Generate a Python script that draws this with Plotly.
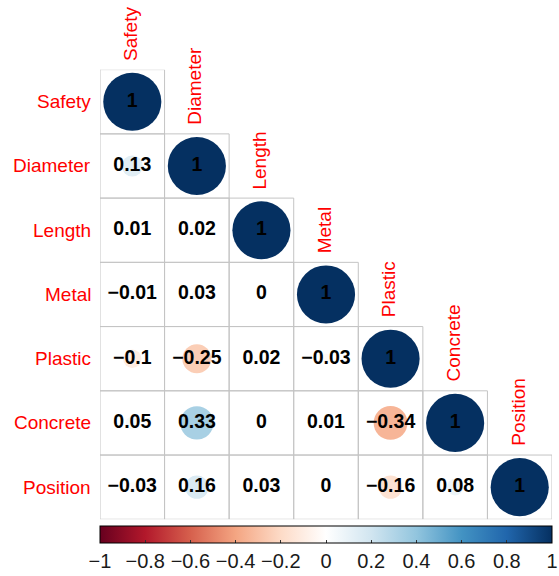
import plotly.graph_objects as go

# Variables and lower-triangle correlation coefficients (row i, columns 0..i-1)
variables = ["Safety", "Diameter", "Length", "Metal", "Plastic", "Concrete", "Position"]
corr_lower = [
    [],
    [0.13],
    [0.01, 0.02],
    [-0.01, 0.03, 0],
    [-0.1, -0.25, 0.02, -0.03],
    [0.05, 0.33, 0, 0.01, -0.34],
    [-0.03, 0.16, 0.03, 0, -0.16, 0.08],
]
colorbar_ticks = [-1, -0.8, -0.6, -0.4, -0.2, 0, 0.2, 0.4, 0.6, 0.8, 1]

# Diverging red-blue palette
rdbu = ["#67001F", "#B2182B", "#D6604D", "#F4A582", "#FDDBC7", "#FFFFFF",
        "#D1E5F0", "#92C5DE", "#4393C3", "#2166AC", "#053061"]
colorscale = [[k / (len(rdbu) - 1), c] for k, c in enumerate(rdbu)]

W, H = 559, 576
left, right, top, bottom = 100, 552, 70, 522
n = len(variables)
cell_px = (right - left) / n


def fmt(v):
    s = f"{v:g}"
    return s.replace("-", "\u2212")


xs, ys, vals, sizes, texts = [], [], [], [], []
for i in range(n):
    row = corr_lower[i] + [1]
    for j, v in enumerate(row):
        xs.append(j)
        ys.append(i)
        vals.append(v)
        sizes.append(0.9 * cell_px * abs(v) ** 0.5)
        texts.append(fmt(v))

fig = go.Figure()

# cell borders for the lower triangle and diagonal
for i in range(n):
    for j in range(i + 1):
        fig.add_shape(type="rect", x0=j - 0.5, x1=j + 0.5, y0=i - 0.5, y1=i + 0.5,
                      xref="x", yref="y", line=dict(color="#C4C4C4", width=1),
                      layer="below")

fig.add_trace(go.Scatter(
    x=xs, y=ys, mode="markers+text", text=texts,
    textposition="middle center",
    textfont=dict(family="Liberation Sans, Arial", size=19.5, color="black", weight="bold"),
    marker=dict(
        size=sizes, sizemode="diameter", color=vals, colorscale=colorscale,
        cmin=-1, cmax=1, line=dict(width=0), opacity=1,
        colorbar=dict(
            orientation="h", x=(left + right) / 2 / W, xanchor="center",
            y=(H - 529) / H, yanchor="top", len=(right - left) / W, lenmode="fraction",
            thickness=17, thicknessmode="pixels", xpad=0, ypad=0,
            outlinecolor="black", outlinewidth=1,
            tickvals=colorbar_ticks, ticktext=[fmt(t) for t in colorbar_ticks],
            ticks="inside", ticklen=3, tickcolor="#333333",
            tickfont=dict(family="Liberation Sans, Arial", size=20, color="#1a1a1a"),
        ),
    ),
    hoverinfo="skip", showlegend=False,
))

label_font = dict(family="Liberation Sans, Arial", size=19, color="#FF0000")
for i, name in enumerate(variables):
    fig.add_annotation(x=-0.5, y=i, xref="x", yref="y", text=name, showarrow=False,
                       xanchor="right", yanchor="middle", xshift=-7, font=label_font)
    fig.add_annotation(x=i, y=i - 0.5, xref="x", yref="y", text=name, showarrow=False,
                       xanchor="center", yanchor="bottom", yshift=7, xshift=-2,
                       textangle=-90, font=label_font)

fig.update_layout(
    width=W, height=H, margin=dict(l=0, r=0, t=0, b=0),
    paper_bgcolor="white", plot_bgcolor="white",
    xaxis=dict(range=[-0.5, n - 0.5], domain=[left / W, right / W],
               showgrid=False, zeroline=False, showticklabels=False, ticks=""),
    yaxis=dict(range=[n - 0.5, -0.5], domain=[(H - bottom) / H, (H - top) / H],
               showgrid=False, zeroline=False, showticklabels=False, ticks=""),
)

fig.write_html("out.html")
